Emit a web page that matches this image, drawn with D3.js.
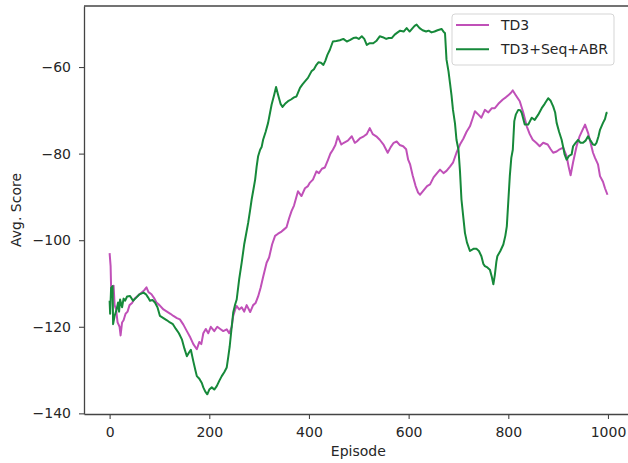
<!DOCTYPE html>
<meta charset="utf-8">
<script src="https://d3js.org/d3.v7.min.js"></script>
<style>
  body { margin: 0; background: #fff; }
  text { font-family: "DejaVu Sans", sans-serif; }
</style>
<div id="chart"></div>
<script>
  // values (episode, avg. score)
  var td3Episodes = [0,2,3,5,8,10,13,16,20,22,25,28,32,36,40,45,50,55,60,65,70,74,78,84,90,94,100,108,115,122,128,135,141,148,155,162,168,175,180,184,188,193,198,203,210,216,222,228,235,240,245,248,252,255,260,265,270,275,282,288,293,298,303,308,315,320,326,332,338,345,350,355,360,365,370,378,385,392,398,402,408,415,420,426,432,438,443,448,453,458,465,470,478,486,492,496,502,510,516,522,528,535,542,550,558,564,570,576,582,589,595,599,603,608,614,619,623,630,637,643,650,657,663,670,676,683,689,696,703,710,716,723,728,733,740,746,753,760,767,773,780,789,795,800,805,809,815,823,830,837,843,849,856,863,870,879,885,890,897,903,910,917,921,925,930,937,943,949,954,960,965,970,974,980,984,990,994,999];
  var td3Scores = [-103,-106,-111,-112,-110.5,-115,-116,-119,-120,-122,-119,-118.5,-117,-116.5,-115,-114.5,-113.5,-113,-112.5,-112,-111.5,-110.9,-112,-112.5,-113.5,-114.4,-115,-116,-116.5,-117,-117.5,-118,-118.3,-119.5,-121,-122.5,-124,-125.2,-123.5,-124,-121.5,-120.5,-121.5,-120,-121,-120,-120.5,-121,-120.6,-121.5,-120,-117.5,-116,-115.2,-116,-115.5,-116.5,-115,-116.6,-115,-114.5,-113,-111,-108.5,-105.2,-104,-101,-99,-98.5,-98,-97.5,-97,-95,-93.3,-92,-88.7,-89.8,-88,-87.5,-86.7,-86,-84.1,-84.5,-83.5,-83.2,-81.5,-80,-79.1,-78,-76,-77.9,-77.5,-77,-76,-77.5,-77.2,-76.5,-76,-75.5,-74.1,-75.5,-76,-76.8,-78,-79.8,-78.5,-77.5,-77.2,-78,-78.3,-79,-81.4,-82.5,-85,-87.5,-89,-89.5,-88.5,-87.5,-87.1,-85.5,-84.5,-83.7,-84.5,-84,-83,-82.1,-79.8,-77.9,-76.5,-75,-73.7,-72,-70.2,-71,-71.7,-69.9,-70.5,-69.5,-69.5,-68.5,-67.5,-67,-66.5,-66,-65.4,-66.5,-67.9,-70.5,-73.7,-75.5,-76.8,-77.5,-78.3,-77.5,-77.9,-79,-79.8,-79.5,-79,-78.6,-80.6,-83,-85,-82,-78.3,-76,-74.5,-73.3,-75.2,-77.5,-79.8,-81,-82.5,-85.2,-86.5,-88,-89.5];

  var abrEpisodes = [0,1,3,6,7,10,14,17,19,21,25,28,31,35,41,47,54,60,68,73,77,81,86,91,96,101,108,115,121,127,133,139,145,150,155,159,163,168,172,175,180,185,188,192,196,200,205,210,215,220,225,230,235,238,241,245,248,252,255,260,265,270,274,278,282,285,289,292,295,298,302,305,308,313,318,322,325,330,334,338,343,347,352,358,364,370,375,382,387,392,398,405,410,415,419,424,429,433,437,442,448,455,462,469,476,482,489,495,500,506,511,516,522,529,535,542,548,555,560,566,572,578,583,590,596,602,608,612,616,622,628,635,640,646,652,658,666,670,673,676,680,683,686,689,693,696,700,703,706,710,713,717,723,730,736,741,746,750,753,758,763,767,770,773,776,778,784,790,794,797,800,803,806,809,812,815,820,824,827,833,840,847,853,860,867,873,880,885,890,894,897,902,907,911,913,917,922,927,930,935,940,945,950,955,960,965,970,974,977,981,984,990,994,997,999];
  var abrScores = [-114,-117,-111,-110.6,-119.4,-117.5,-116,-114.4,-116.5,-113.7,-115.5,-113.5,-114,-113,-112.9,-114,-113.2,-112.5,-112.1,-112.5,-113.2,-114,-113.8,-114.4,-115.5,-117.5,-118,-118.5,-119,-119.4,-120.5,-121.5,-122.9,-125,-126.8,-126,-125.3,-128,-130,-131.4,-132,-133,-134,-135,-135.6,-134.5,-134,-134.5,-133.7,-132.5,-131.4,-130.5,-129.4,-127,-124.5,-120,-116.7,-114.8,-113.7,-109,-105.2,-101,-98.5,-96,-93,-90.6,-88,-86,-83,-80.6,-79.1,-78.5,-76.8,-75,-72.9,-70.5,-68.7,-66.5,-64.6,-66.4,-68.5,-69.2,-68.5,-67.9,-67.5,-67,-66.8,-64.8,-64,-63.3,-62.5,-61,-60.5,-59.5,-58.9,-59,-59.5,-58.5,-57.2,-56,-54.1,-54,-53.8,-53.5,-54.1,-53.8,-53.3,-53.2,-53.5,-52.9,-53.5,-54.9,-54.5,-54.5,-54,-52.9,-53.1,-53.5,-53.3,-53.3,-52.5,-52,-51.6,-51.8,-51,-51.8,-51,-50.5,-50.2,-51,-51.5,-51.8,-51.6,-52,-51.8,-51.5,-51.2,-51.8,-52.2,-58.3,-61,-63.7,-66.5,-69.9,-73,-76.8,-79.1,-84,-90.6,-95,-98.3,-100.5,-102.5,-102,-102,-102.5,-103.7,-105.5,-106,-106.3,-106.8,-108.5,-110.2,-108,-105,-103.7,-102.5,-101,-99,-96.8,-91,-85.2,-81,-79.1,-72.5,-71,-69.9,-70,-70.6,-73.3,-73.3,-71.7,-72.2,-71,-69.5,-68.5,-67.2,-67.8,-69.1,-70.5,-72.9,-75,-76.8,-79,-80.2,-81.4,-80.5,-80.2,-78.3,-77.5,-76.8,-77.5,-77.5,-77,-76,-77,-77.9,-78,-77.5,-76,-74.5,-72.9,-72,-70.6,-70.5];

  var seriesNames = ["TD3", "TD3+Seq+ABR"];
  var seriesColors = ["#c050b8", "#16893a"];
  var xTicks = [0, 200, 400, 600, 800, 1000];
  var yTicks = [-140, -120, -100, -80, -60];

  var W = 628, H = 463;
  var plotLeft = 84, plotTop = 6, plotBottom = 414;

  var svg = d3.select("#chart").append("svg")
    .attr("width", W).attr("height", H);

  var x = d3.scaleLinear().domain([-51.4, 1049.4]).range([plotLeft, 632.6]);
  var y = d3.scaleLinear().domain([-140.15, -45.9]).range([plotBottom, plotTop]);

  // X axis
  var gx = svg.append("g")
    .attr("transform", "translate(0," + plotBottom + ")")
    .call(d3.axisBottom(x).tickValues(xTicks).tickSize(5).tickPadding(8).tickSizeOuter(0)
      .tickFormat(d3.format("d")));
  // Y axis
  var gy = svg.append("g")
    .attr("transform", "translate(" + plotLeft + ",0)")
    .call(d3.axisLeft(y).tickValues(yTicks).tickSize(5).tickPadding(8).tickSizeOuter(0)
      .tickFormat(function(d) { return String(d).replace("-", "\u2212"); }));

  [gx, gy].forEach(function(g) {
    g.selectAll("path").attr("stroke", "#444").attr("stroke-width", 1.3);
    g.selectAll("line").attr("stroke", "#444").attr("stroke-width", 1.1);
    g.selectAll("text").attr("font-size", 14).attr("fill", "#262626")
      .attr("font-family", "DejaVu Sans");
  });

  // top spine
  svg.append("line")
    .attr("x1", plotLeft).attr("x2", W).attr("y1", plotTop).attr("y2", plotTop)
    .attr("stroke", "#444").attr("stroke-width", 1.3);

  var line = d3.line()
    .x(function(d) { return x(d[0]); })
    .y(function(d) { return y(d[1]); });

  var series = [
    d3.zip(td3Episodes, td3Scores),
    d3.zip(abrEpisodes, abrScores)
  ];

  series.forEach(function(s, i) {
    svg.append("path")
      .datum(s)
      .attr("fill", "none")
      .attr("stroke", seriesColors[i])
      .attr("stroke-width", 2)
      .attr("stroke-linejoin", "round")
      .attr("d", line);
  });

  // axis titles
  svg.append("text")
    .attr("x", (plotLeft + 632.6) / 2).attr("y", 456)
    .attr("text-anchor", "middle").attr("font-size", 14).attr("fill", "#262626")
    .text("Episode");
  svg.append("text")
    .attr("transform", "translate(20.5," + ((plotTop + plotBottom) / 2) + ") rotate(-90)")
    .attr("text-anchor", "middle").attr("font-size", 14).attr("fill", "#262626")
    .text("Avg. Score");

  // legend
  var lg = svg.append("g");
  lg.append("rect")
    .attr("x", 452).attr("y", 14).attr("width", 162).attr("height", 51)
    .attr("rx", 3).attr("fill", "#fff").attr("fill-opacity", 0.8)
    .attr("stroke", "#d5d5d5").attr("stroke-width", 1);
  seriesNames.forEach(function(n, i) {
    var ly = 25 + i * 24.3;
    lg.append("line")
      .attr("x1", 456).attr("x2", 489).attr("y1", ly).attr("y2", ly)
      .attr("stroke", seriesColors[i]).attr("stroke-width", 2);
    lg.append("text")
      .attr("x", 501).attr("y", ly + 5)
      .attr("font-size", 14).attr("fill", "#262626")
      .text(n);
  });
</script>
